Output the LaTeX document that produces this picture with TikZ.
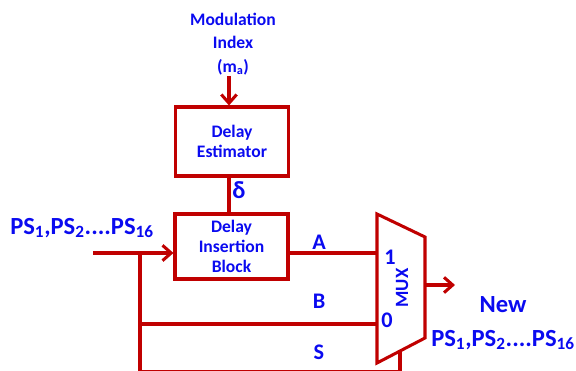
\documentclass[tikz,border=0pt]{standalone}
\usepackage{fontspec}
\setmainfont{Carlito}
\usetikzlibrary{arrows.meta,positioning,calc}

\definecolor{wirered}{RGB}{192,0,0}
\definecolor{labelblue}{RGB}{10,10,240}

\begin{document}
\begin{tikzpicture}[
  x=0.03cm, y=-0.03cm,
  >={Straight Barb[length=2.6mm,width=4.6mm]},
  wire/.style={draw=wirered, line width=2.6pt},
  blockstyle/.style={wire, text=labelblue, align=center, inner sep=1pt,
    minimum width=3.39cm, font=\fontsize{15}{17}\selectfont\bfseries},
  sigstyle/.style={text=labelblue, inner sep=0pt, font=\fontsize{19}{21}\selectfont\bfseries},
  bigstyle/.style={text=labelblue, inner sep=0pt, align=center, font=\fontsize{21}{29}\selectfont\bfseries},
]
\useasboundingbox (0,0) rectangle (576,371);

% --- blocks ---
\node[blockstyle, minimum height=2.07cm] (est) at (232,141.5) {Delay\\Estimator};
\node[blockstyle, minimum height=1.95cm, text depth=0pt] (dib) at (231.5,246.5)
  {Delay\\Insertion\\Block};

% --- mux outline ---
\coordinate (mlt) at (377,214);
\coordinate (mrt) at (425,237);
\coordinate (mrb) at (425,338);
\coordinate (mlb) at (377,363);
\draw[wire, line join=miter] (mlt) -- (mrt) -- (mrb) -- (mlb) -- cycle;
\coordinate (mone) at (377,253);
\coordinate (mzero) at (377,324);
\coordinate (msel) at (400,351.5);
\coordinate (mout) at (425,285);

% --- top input ---
\node[text=labelblue, align=center, inner sep=0pt, font=\fontsize{15}{20}\selectfont\bfseries]
  (mod) at (233,44) {Modulation\\Index\\(m\textsubscript{a})};
\coordinate (modend) at (229,76);
\draw[wire, ->] (modend) -- (est.north -| modend);
\draw[wire] (est.south -| modend) -- (dib.north -| modend);
\node[sigstyle, font=\fontsize{21}{23}\selectfont\bfseries] (delta) at (239,190) {δ};

% --- left input and branches ---
\coordinate (in) at (93,253);
\coordinate (split) at (140,253);
\coordinate (selcorner) at (140,371.5);
\draw[wire, ->] (in) -- (in -| dib.west);
\draw[wire] (split) -- (selcorner) -- (selcorner -| msel) -- (msel);
\draw[wire] (split |- mzero) -- (mzero);
\draw[wire] (dib.east |- mone) -- (mone);
\node[bigstyle] (inlbl) at (82,228) {PS\textsubscript{1},PS\textsubscript{2}....PS\textsubscript{16}};

% --- signal labels ---
\node[sigstyle] (lblA) at (319,242) {A};
\node[sigstyle] (lblB) at (319,301) {B};
\node[sigstyle] (lblS) at (319,352) {S};
\node[sigstyle] (lblone) at (390,257) {1};
\node[sigstyle] (lblzero) at (387,320) {0};
\node[text=labelblue, inner sep=0pt, rotate=90, font=\fontsize{16}{18}\selectfont\bfseries]
  (muxlbl) at (402,288) {MUX};

% --- output ---
\coordinate (outend) at (455,285);
\draw[wire, ->] (mout) -- (outend);
\node[bigstyle] (outlbl) at (503,323) {New\\PS\textsubscript{1},PS\textsubscript{2}....PS\textsubscript{16}};

\end{tikzpicture}
\end{document}
